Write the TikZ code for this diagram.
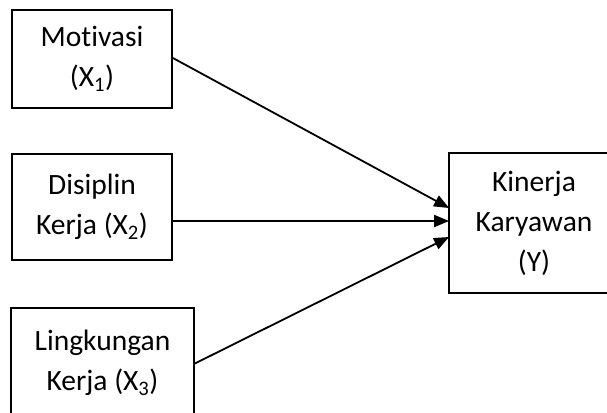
\documentclass[tikz,border=0pt]{standalone}
\usepackage{fontspec}
\setmainfont{Carlito}[Ligatures=NoCommon]
\usetikzlibrary{arrows.meta}
\begin{document}
\begin{tikzpicture}[x=1pt,y=-1pt,
  box/.style={draw=black,line width=1.8pt,align=center,inner sep=0pt,
    font=\fontsize{29.5}{40}\selectfont},
  boxline/.style={draw=black,line width=1.8pt},
  conn/.style={line width=1.8pt,-{Triangle[length=15pt,width=12pt]}}]
\useasboundingbox (0,0) rectangle (607,412);
\clip (0,0) rectangle (607,412);
\fill[white] (0,0) rectangle (607,412);
\node[box,minimum width=160pt,minimum height=98pt] (b1) at (92,59) {Motivasi\\(X\textsubscript{1})};
\node[box,minimum width=160pt,minimum height=106pt] (b2) at (92,207) {Disiplin\\Kerja (X\textsubscript{2})};
\node[box,draw=none,minimum width=181pt,minimum height=108pt] (b3) at (102.5,363) {Lingkungan\\Kerja (X\textsubscript{3})};
\draw[boxline] ([yshift=-30pt]b3.south west) -- (b3.north west) -- (b3.north east) -- ([yshift=-30pt]b3.south east);
\node[box,draw=none,minimum width=168pt,minimum height=138pt] (b4) at (534,223) {Kinerja\\Karyawan\\(Y)};
\draw[boxline] ([xshift=40pt]b4.north east) -- (b4.north west) -- (b4.south west) -- ([xshift=40pt]b4.south east);
\draw[conn] ([yshift=1pt]b1.east) -- ([yshift=15pt]b4.west);
\draw[conn] ([yshift=-14pt]b2.east) -- ([yshift=2pt]b4.west);
\draw[conn] ([yshift=-1pt]b3.east) -- ([yshift=-14pt]b4.west);
\end{tikzpicture}
\end{document}
